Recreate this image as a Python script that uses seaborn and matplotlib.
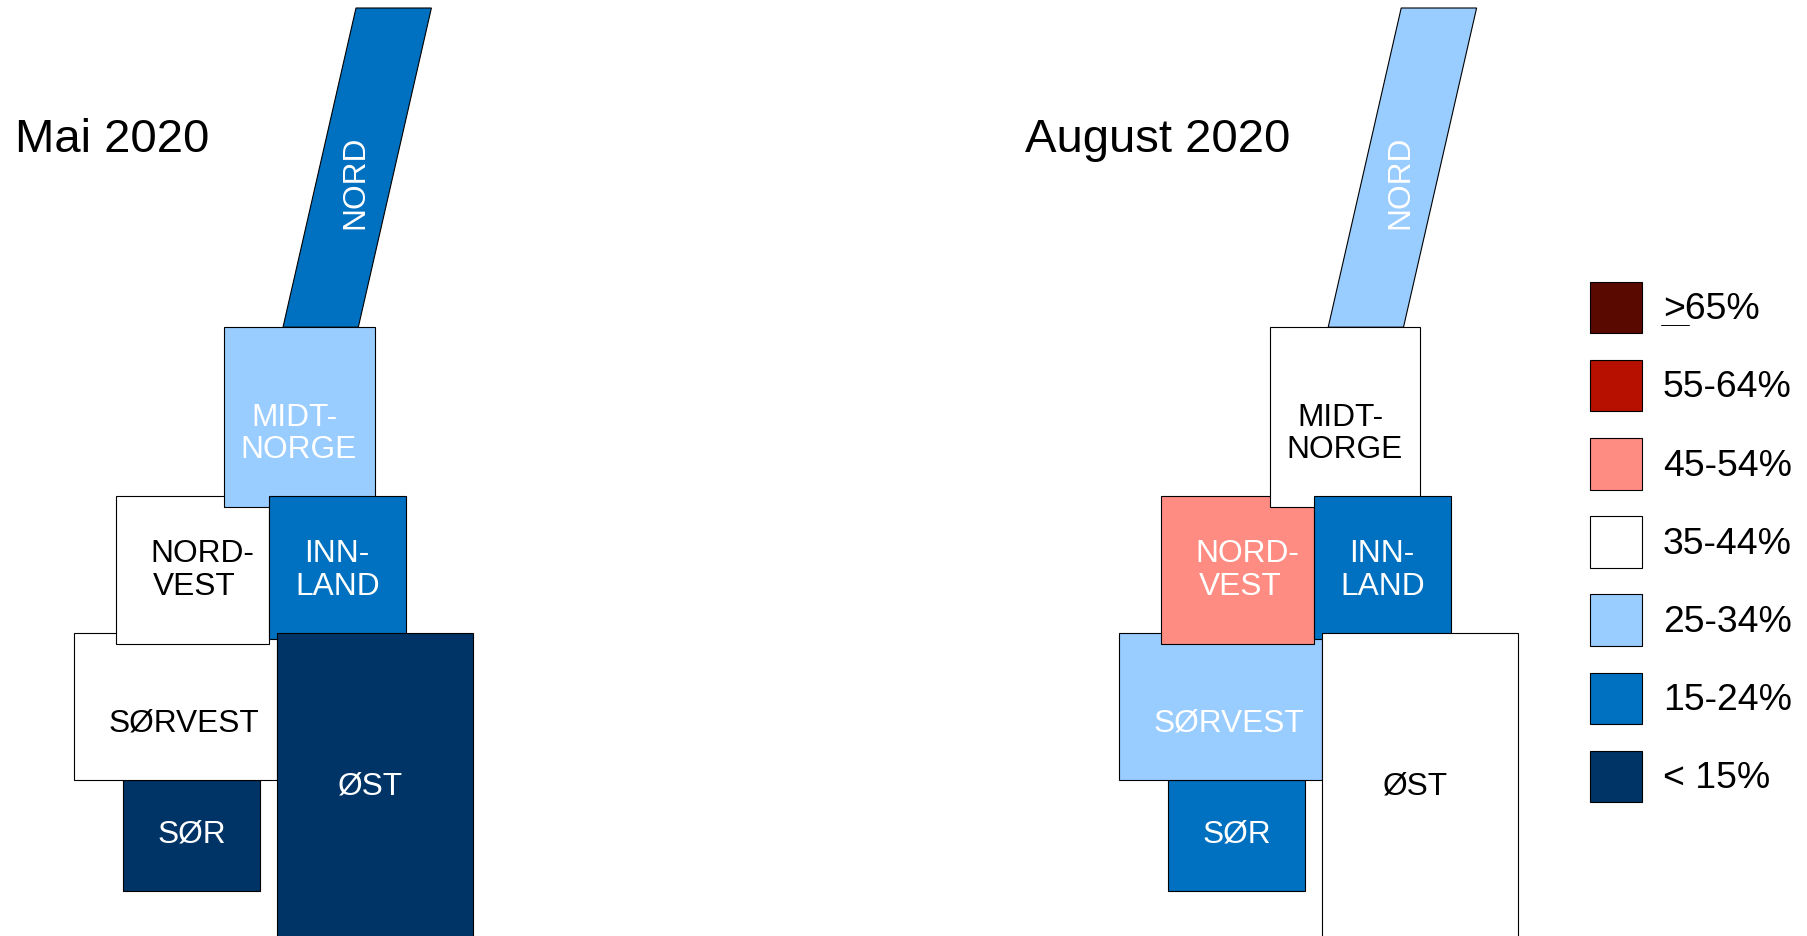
import seaborn as sns
import matplotlib.pyplot as plt
from matplotlib.patches import Polygon, Rectangle

sns.set_theme(style="white", palette=None)
plt.rcParams['font.family'] = ['Liberation Sans', 'DejaVu Sans']

# colour classes, top of the legend first
band_labels = ['>65%', '55-64%', '45-54%', '35-44%', '25-34%', '15-24%', '< 15%']
band_colors = ['#590900', '#B71000', '#FF8C82', '#FFFFFF', '#99CCFF', '#0070C0', '#003366']
band_text = ['white', 'white', 'white', 'black', 'white', 'white', 'white']

periods = ['Mai 2020', 'August 2020']
regions = ['NORD', 'SØR', 'SØRVEST', 'NORD-VEST', 'MIDT-NORGE', 'INN-LAND', 'ØST']
mai_2020 = ['15-24%', '< 15%', '35-44%', '35-44%', '25-34%', '15-24%', '< 15%']
august_2020 = ['25-34%', '15-24%', '25-34%', '45-54%', '35-44%', '15-24%', '35-44%']

palette = dict(zip(band_labels, sns.color_palette(band_colors)))
text_color = dict(zip(band_labels, band_text))

# tile map layout in pixels (x0, y0, x1, y1), drawing order = regions
tiles = {
    'SØR': (123.3, 781.2, 260.2, 892.4),
    'SØRVEST': (74, 634, 276.8, 781.2),
    'NORD-VEST': (116.3, 497.2, 269.3, 644.5),
    'MIDT-NORGE': (224.5, 328.2, 375.2, 507.6),
    'INN-LAND': (269.3, 497.2, 406.2, 640),
    'ØST': (276.8, 634, 473, 960),
}
nord_shape = [(356, 9), (431.4, 9), (358.3, 328.2), (283, 328.2)]

# label lines: text, centre x, baseline y
tile_text = {
    'SØR': [('SØR', 191.8, 842.8)],
    'SØRVEST': [('SØRVEST', 183.8, 731.6)],
    'NORD-VEST': [('NORD-', 202.3, 562.5), ('VEST', 194.7, 595)],
    'MIDT-NORGE': [('MIDT-', 294.8, 426.5), ('NORGE', 299, 458)],
    'INN-LAND': [('INN-', 337, 562.5), ('LAND', 337.3, 595)],
    'ØST': [('ØST', 370, 794.6)],
}

panel_shift = [0, 1045.2]
title_x = [15, 1024.6]

fig = plt.figure(figsize=(18.07, 9.37), dpi=100)
ax = fig.add_axes([0, 0, 1, 1])
ax.set_xlim(0, 1807)
ax.set_ylim(937, 0)
ax.axis('off')

lw = 0.8
for shift, values, name, tx in zip(panel_shift, [mai_2020, august_2020], periods, title_x):
    ax.text(tx, 152, name, fontsize=34, color='black', ha='left', va='baseline')
    for z, (region, band) in enumerate(zip(regions, values)):
        if region == 'NORD':
            ax.add_patch(Polygon([(x + shift, y) for x, y in nord_shape], closed=True,
                                 facecolor=palette[band], edgecolor='black', linewidth=lw, zorder=z))
            ax.text(355.2 + shift, 182, 'NORD', rotation=90, fontsize=22.8, color=text_color[band],
                    ha='center', va='center', zorder=20)
            continue
        x0, y0, x1, y1 = tiles[region]
        ax.add_patch(Rectangle((x0 + shift, y0), x1 - x0, y1 - y0, facecolor=palette[band],
                               edgecolor='black', linewidth=lw, zorder=z))
        for line, cx, by in tile_text[region]:
            ax.text(cx + shift, by, line, fontsize=22.8, color=text_color[band],
                    ha='center', va='baseline', zorder=20)

# legend
for i, label in enumerate(band_labels):
    top = 282.6 + 78.2 * i
    ax.add_patch(Rectangle((1590.3, top), 52, 51.5, facecolor=palette[label],
                           edgecolor='black', linewidth=lw))
    ax.text(1663, top + 36.6, label, fontsize=26.9, color='black', ha='left', va='baseline')
ax.plot([1660.7, 1688.7], [326.3, 326.3], color='black', linewidth=0.7)

fig.savefig('out.png', dpi=100)
